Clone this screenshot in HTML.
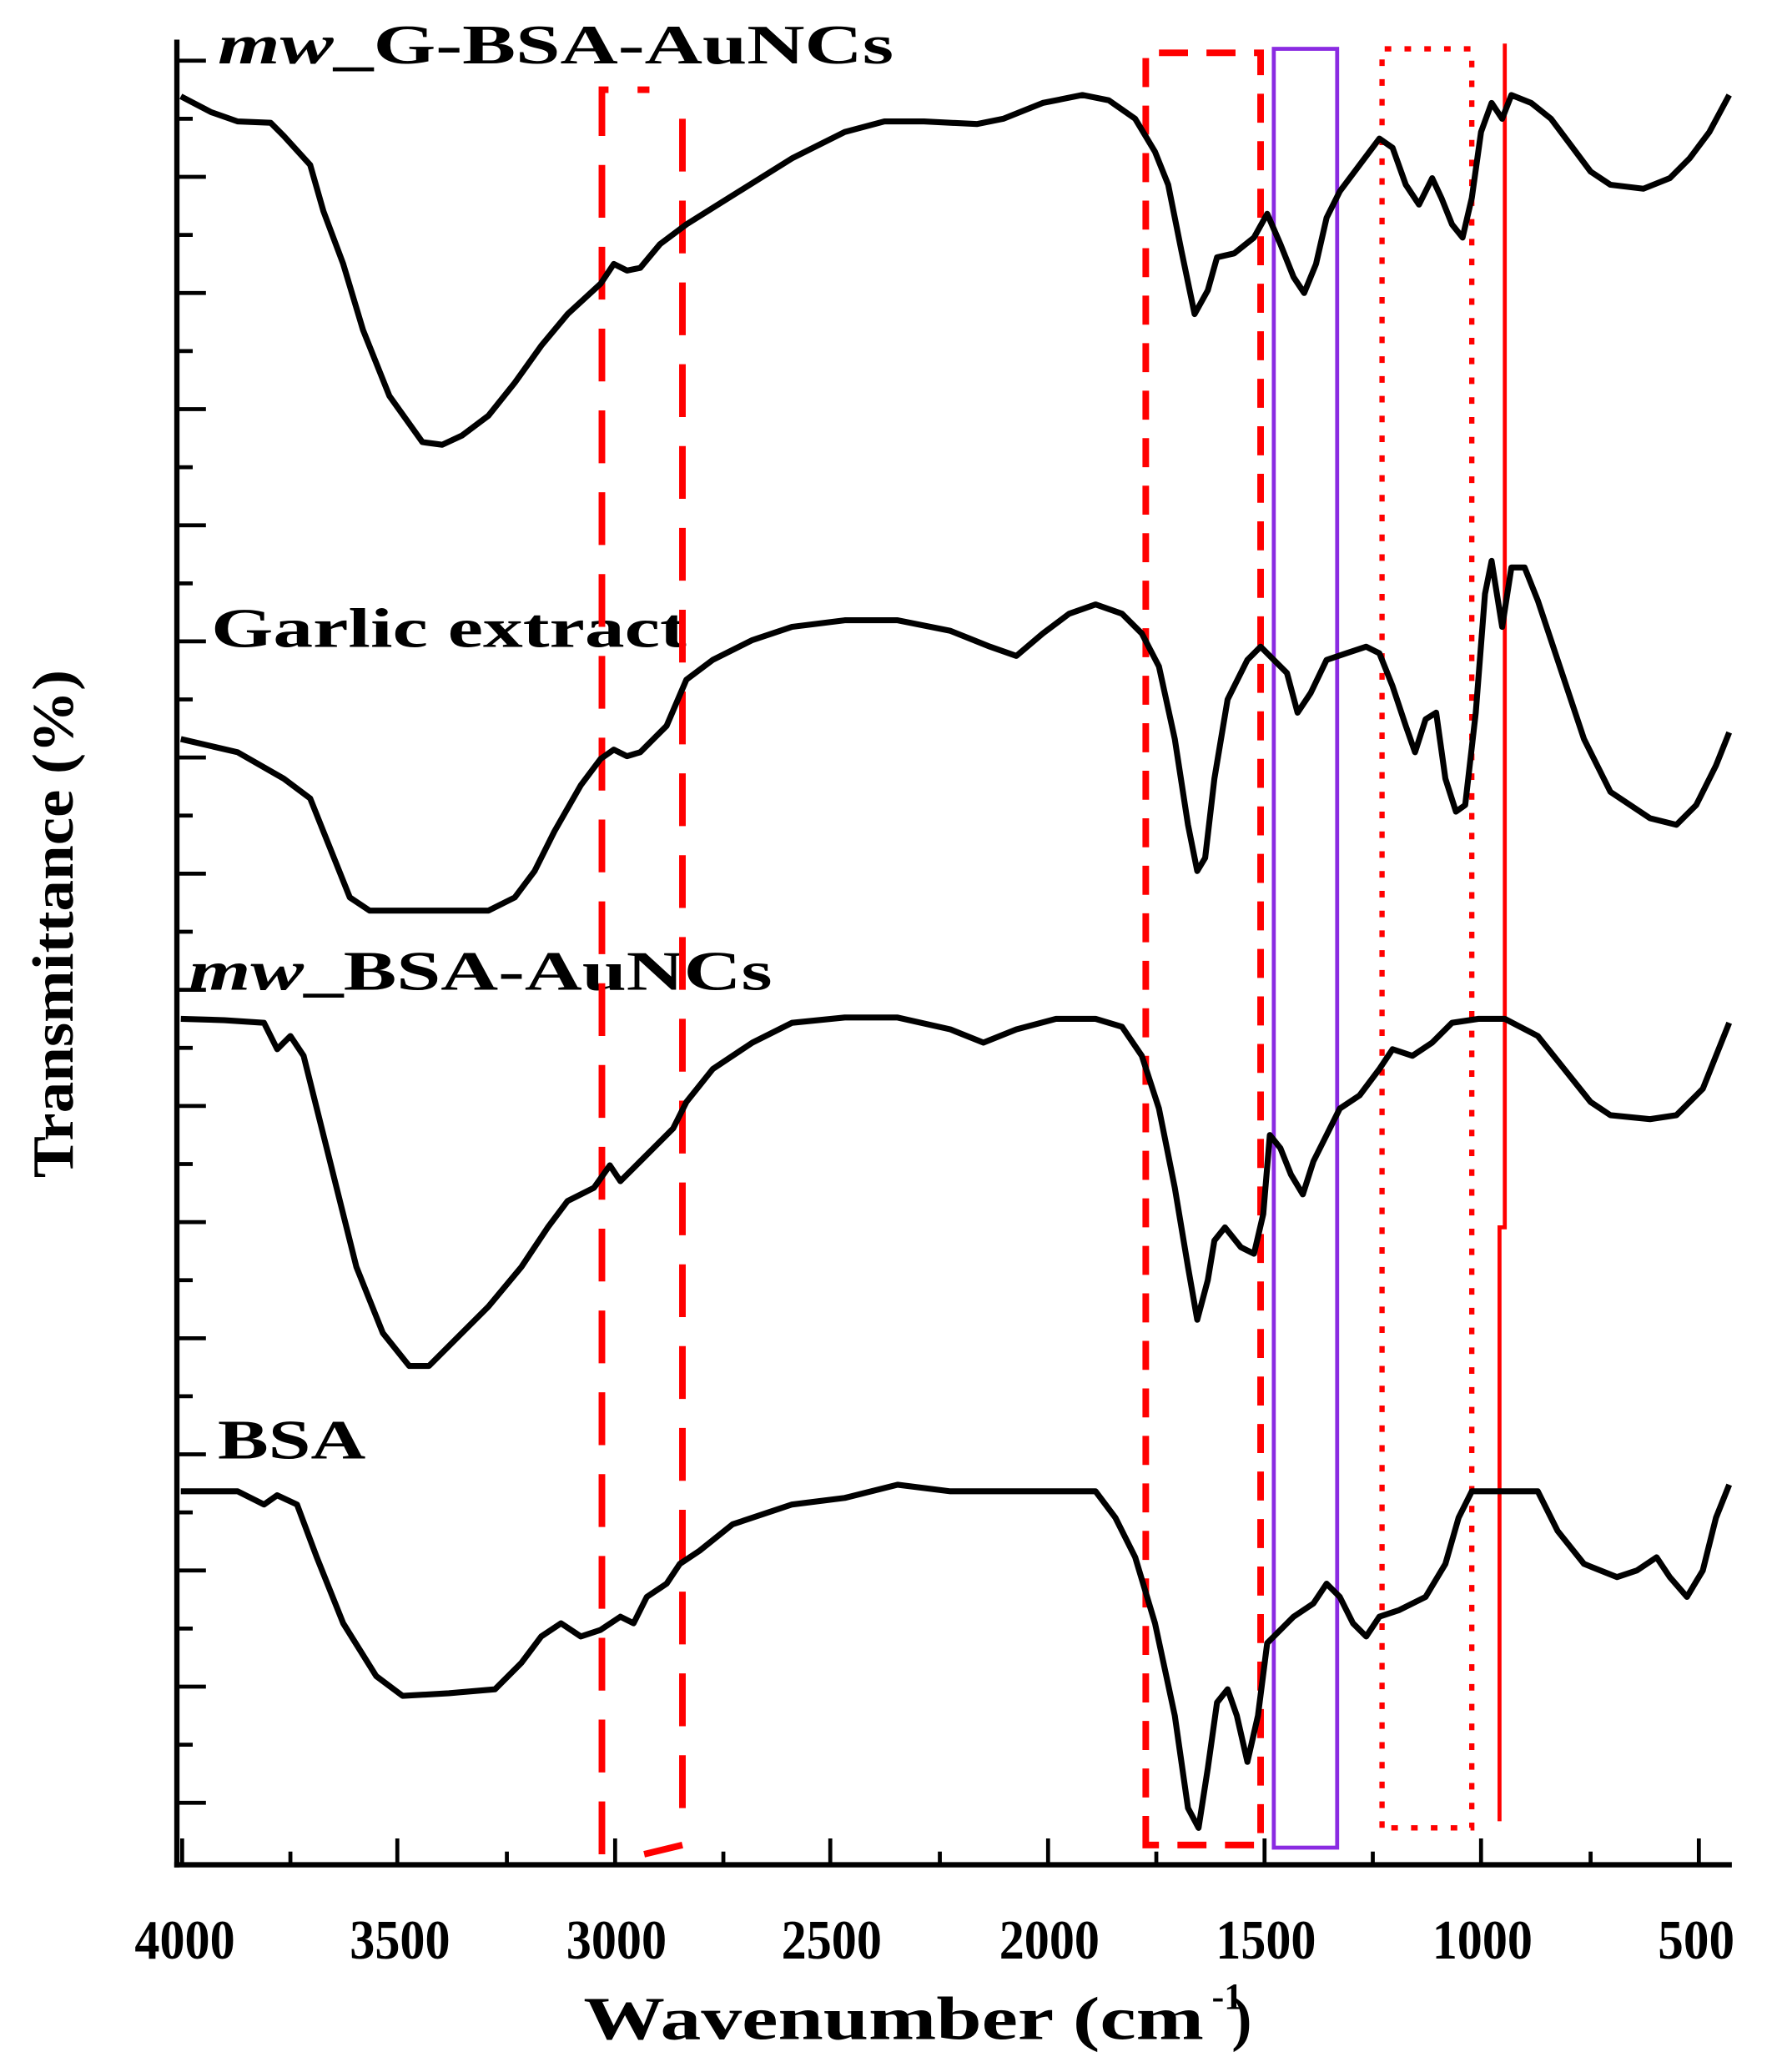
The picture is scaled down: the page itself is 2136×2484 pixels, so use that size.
<!DOCTYPE html>
<html><head><style>html,body{margin:0;padding:0;background:#fff}svg{display:block}</style></head>
<body>
<svg width="2136" height="2484" viewBox="0 0 1350 1570" preserveAspectRatio="none" xmlns="http://www.w3.org/2000/svg" font-family="'Liberation Serif',serif" font-weight="bold">
<rect width="1350" height="1570" fill="#fff"/>
<g stroke="#000" stroke-width="4" fill="none">
<line x1="134" y1="30" x2="134" y2="1415"/>
<line x1="132" y1="1413" x2="1312" y2="1413"/>
</g>
<g stroke="#000" stroke-width="3">
<path d="M134 46h22M134 90h12M134 134h22M134 178h12M134 222h22M134 266h12M134 310h22M134 354h12M134 398h22M134 442h12M134 486h22M134 530h12M134 574h22M134 618h12M134 662h22M134 706h12M134 750h22M134 794h12M134 838h22M134 882h12M134 926h22M134 970h12M134 1014h22M134 1058h12M134 1102h22M134 1146h12M134 1190h22M134 1234h12M134 1278h22M134 1322h12M134 1366h22"/>
<path d="M138 1413v-20M220 1413v-10M301 1413v-20M384 1413v-10M466 1413v-20M548 1413v-10M629 1413v-20M712 1413v-10M794 1413v-20M876 1413v-10M958 1413v-20M1040 1413v-10M1122 1413v-20M1205 1413v-10M1287 1413v-20"/>
</g>
<g font-size="42" text-anchor="middle" lengthAdjust="spacingAndGlyphs">
<text x="140" y="1484" textLength="76" lengthAdjust="spacingAndGlyphs">4000</text><text x="303" y="1484" textLength="76" lengthAdjust="spacingAndGlyphs">3500</text><text x="467" y="1484" textLength="76" lengthAdjust="spacingAndGlyphs">3000</text><text x="630" y="1484" textLength="76" lengthAdjust="spacingAndGlyphs">2500</text><text x="795" y="1484" textLength="76" lengthAdjust="spacingAndGlyphs">2000</text><text x="959" y="1484" textLength="76" lengthAdjust="spacingAndGlyphs">1500</text><text x="1123" y="1484" textLength="76" lengthAdjust="spacingAndGlyphs">1000</text><text x="1285" y="1484" textLength="58" lengthAdjust="spacingAndGlyphs">500</text>
</g>
<text x="442" y="1545" font-size="46" textLength="470" lengthAdjust="spacingAndGlyphs">Wavenumber (cm</text>
<text x="918" y="1522" font-size="28">-1</text>
<text x="933" y="1545" font-size="46">)</text>
<text transform="translate(55,700) rotate(-90)" font-size="44" text-anchor="middle" textLength="385" lengthAdjust="spacingAndGlyphs">Transmittance (%)</text>
<text x="165" y="48" font-size="42" textLength="512" lengthAdjust="spacingAndGlyphs"><tspan font-style="italic">mw</tspan>_G-BSA-AuNCs</text>
<text x="160" y="490" font-size="42" textLength="360" lengthAdjust="spacingAndGlyphs">Garlic extract</text>
<text x="143" y="750" font-size="42" textLength="442" lengthAdjust="spacingAndGlyphs"><tspan font-style="italic">mw</tspan>_BSA-AuNCs</text>
<text x="165" y="1105" font-size="42" textLength="112" lengthAdjust="spacingAndGlyphs">BSA</text>
<g fill="none" stroke="#f00">
<path d="M456 1405V68H492M517 90V1370M488 1405L517 1398" stroke-width="5" stroke-dasharray="40,22"/>
<path d="M868 1398V40H955V1398Z" stroke-width="5" stroke-dasharray="22,14"/>
<path d="M1047 1385V37H1115V1385Z" stroke-width="4" stroke-dasharray="5,10"/>
<path d="M1140 33V930H1136V1380" stroke-width="3"/>
</g>
<rect x="965" y="37" width="48" height="1363" fill="none" stroke="#8a2be2" stroke-width="3"/>
<g fill="none" stroke="#000" stroke-width="4.5" stroke-linejoin="round">
<polyline points="137,73 160,85 180,92 205,93 215,103 235,125 245,160 260,200 275,250 295,300 320,335 335,337 350,330 370,315 390,290 410,262 430,238 455,215 465,200 475,205 485,203 500,185 520,170 560,145 600,120 640,100 670,92 700,92 740,94 760,90 790,78 820,72 840,76 860,90 875,115 885,140 895,190 905,238 915,220 922,195 935,192 950,180 960,162 970,185 980,210 988,222 997,200 1005,165 1015,145 1030,125 1045,105 1055,112 1065,140 1075,155 1085,135 1092,150 1100,170 1108,180 1115,150 1122,100 1130,78 1138,90 1145,72 1160,78 1175,90 1190,110 1205,130 1220,140 1245,143 1265,135 1280,120 1295,100 1310,72"/>
<polyline points="137,560 180,570 215,590 235,605 245,630 255,655 265,680 280,690 320,690 370,690 390,680 405,660 420,630 440,595 455,575 465,568 475,573 485,570 495,560 505,550 520,515 540,500 570,485 600,475 640,470 680,470 720,478 750,490 770,497 790,480 810,465 830,458 850,465 865,480 878,505 890,560 900,625 907,660 913,650 920,590 930,530 945,500 955,490 965,500 975,510 983,540 993,525 1005,500 1020,495 1035,490 1045,495 1055,520 1065,550 1072,570 1080,545 1088,540 1095,590 1103,615 1110,610 1118,540 1125,450 1130,425 1138,475 1145,430 1155,430 1165,455 1180,500 1200,560 1220,600 1250,620 1270,625 1285,610 1300,580 1310,555"/>
<polyline points="137,772 170,773 200,775 210,795 220,785 230,800 240,840 255,900 270,960 290,1010 310,1035 325,1035 345,1015 370,990 395,960 415,930 430,910 450,900 462,883 470,895 485,880 495,870 510,855 520,835 540,810 570,790 600,775 640,771 680,771 720,780 745,790 770,780 800,772 830,772 850,778 865,800 878,840 890,900 900,960 907,1000 915,970 920,940 928,930 940,945 950,950 957,920 962,860 970,870 978,890 987,905 995,880 1005,860 1015,840 1030,830 1045,810 1055,795 1070,800 1085,790 1100,775 1120,772 1140,772 1165,785 1185,810 1205,835 1220,845 1250,848 1270,845 1290,825 1310,775"/>
<polyline points="137,1130 180,1130 200,1140 210,1133 225,1140 240,1180 260,1230 285,1270 305,1285 340,1283 375,1280 395,1260 410,1240 425,1230 440,1240 455,1235 470,1225 480,1230 490,1210 505,1200 515,1185 530,1175 555,1155 600,1140 640,1135 680,1125 720,1130 780,1130 830,1130 845,1150 860,1180 875,1230 890,1300 900,1370 908,1385 915,1340 922,1290 930,1280 937,1300 945,1335 953,1300 960,1245 970,1235 980,1225 995,1215 1005,1200 1015,1210 1025,1230 1035,1240 1045,1225 1060,1220 1080,1210 1095,1185 1105,1150 1115,1130 1140,1130 1165,1130 1180,1160 1200,1185 1225,1195 1240,1190 1255,1180 1265,1195 1278,1210 1290,1190 1300,1150 1310,1125"/>
</g>
</svg>
</body></html>
